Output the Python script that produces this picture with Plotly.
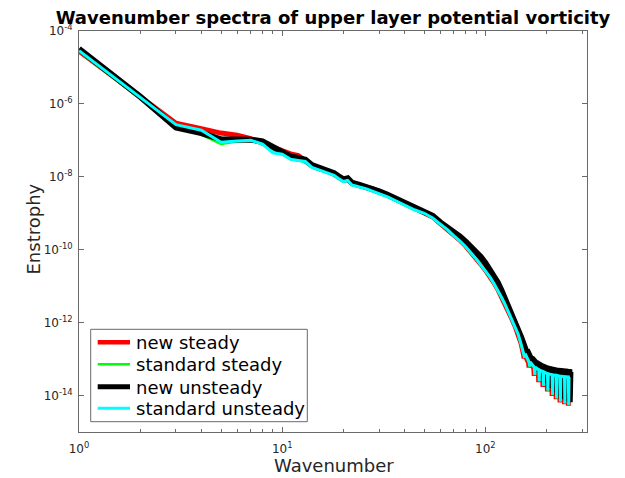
import plotly.graph_objects as go

# ---------------- data (log10 of enstrophy) ----------------
k_smooth = [1, 2, 3, 4, 5, 6, 7, 8, 9, 10, 11, 12, 13, 14, 15, 16, 17, 18, 19, 20,
            21, 22, 24, 26, 28, 30, 33, 36, 40, 45, 50, 55, 60, 65, 70, 75, 80, 85,
            90, 95, 100, 105, 110, 115, 120, 125, 130, 135, 140, 145, 150]

log_new_steady = [-4.55, -5.79, -6.53, -6.68, -6.80, -6.86, -6.95, -7.08, -7.20, -7.30,
                  -7.37, -7.42, -7.57, -7.70, -7.77, -7.80, -7.86, -7.93, -8.02, -8.09,
                  -8.08, -8.18, -8.24, -8.28, -8.33, -8.42, -8.50, -8.61, -8.73, -8.87,
                  -8.97, -9.10, -9.28, -9.43, -9.60, -9.74, -9.90, -10.06, -10.23, -10.40,
                  -10.56, -10.72, -10.90, -11.08, -11.28, -11.48, -11.70, -11.90, -12.10,
                  -12.30, -12.58]
log_standard_steady = [-4.56, -5.86, -6.58, -6.84, -7.10, -7.03, -7.00, -7.10, -7.33, -7.38,
                       -7.52, -7.55, -7.60, -7.74, -7.80, -7.84, -7.89, -7.96, -8.05, -8.13,
                       -8.10, -8.22, -8.28, -8.33, -8.40, -8.46, -8.55, -8.65, -8.77, -8.91,
                       -9.00, -9.13, -9.30, -9.45, -9.62, -9.76, -9.92, -10.08, -10.25, -10.42,
                       -10.58, -10.74, -10.92, -11.10, -11.30, -11.50, -11.72, -11.92, -12.12,
                       -12.32, -12.60]
log_new_unsteady = [-4.49, -5.80, -6.65, -6.80, -6.97, -6.98, -6.98, -7.03, -7.18, -7.30,
                    -7.44, -7.48, -7.53, -7.68, -7.74, -7.78, -7.83, -7.90, -7.99, -8.07,
                    -8.04, -8.16, -8.22, -8.27, -8.34, -8.40, -8.49, -8.59, -8.71, -8.85,
                    -8.94, -9.07, -9.25, -9.38, -9.52, -9.64, -9.78, -9.92, -10.05, -10.20,
                    -10.36, -10.53, -10.72, -10.90, -11.12, -11.35, -11.57, -11.77, -11.97,
                    -12.15, -12.40]
log_standard_unsteady = [-4.54, -5.82, -6.57, -6.72, -7.05, -7.02, -7.00, -7.10, -7.34, -7.38,
                         -7.52, -7.55, -7.58, -7.74, -7.80, -7.84, -7.89, -7.96, -8.05, -8.13,
                         -8.10, -8.22, -8.28, -8.33, -8.40, -8.46, -8.55, -8.65, -8.77, -8.91,
                         -9.00, -9.13, -9.30, -9.45, -9.62, -9.76, -9.92, -10.08, -10.25, -10.42,
                         -10.58, -10.74, -10.92, -11.10, -11.30, -11.50, -11.72, -11.92, -12.12,
                         -12.32, -12.60]

# high-wavenumber comb: tooth wavenumbers, upper envelope and tooth bottoms
k_teeth = [156, 165, 175, 184, 193, 203, 214, 224, 234, 246, 257]
teeth_shift = {"new steady": -1, "standard steady": 0, "new unsteady": 3, "standard unsteady": 0}
upper_new_steady = [-12.87, -13.10, -13.24, -13.32, -13.37, -13.42, -13.45, -13.47, -13.49, -13.50, -13.51]
lower_new_steady = [-12.98, -13.23, -13.46, -13.63, -13.76, -13.89, -14.01, -14.10, -14.19, -14.24, -14.28]
upper_standard_steady = [-12.86, -13.09, -13.23, -13.31, -13.36, -13.41, -13.44, -13.46, -13.48, -13.49, -13.50]
lower_standard_steady = [-12.96, -13.21, -13.44, -13.61, -13.74, -13.87, -13.99, -14.08, -14.17, -14.22, -14.26]
upper_new_unsteady = [-12.75, -12.97, -13.10, -13.18, -13.23, -13.27, -13.30, -13.32, -13.33, -13.34, -13.35]
lower_new_unsteady = [-12.88, -13.13, -13.36, -13.53, -13.66, -13.79, -13.91, -14.00, -14.09, -14.14, -14.18]
upper_standard_unsteady = [-12.85, -13.08, -13.22, -13.30, -13.35, -13.40, -13.43, -13.45, -13.47, -13.48, -13.49]
lower_standard_unsteady = [-12.95, -13.20, -13.43, -13.60, -13.73, -13.86, -13.98, -14.07, -14.16, -14.21, -14.25]

y_tick_exponents = [-4, -6, -8, -10, -12, -14]
x_tick_exponents = [0, 1, 2]
x_minor_ticks = [2, 3, 4, 5, 6, 7, 8, 9, 20, 30, 40, 50, 60, 70, 80, 90, 200, 300]

series = [
    ("new steady", log_new_steady, upper_new_steady, lower_new_steady, "#ff0000", 5, 4.5),
    ("standard steady", log_standard_steady, upper_standard_steady, lower_standard_steady, "#00ff00", 2.5, 2.5),
    ("new unsteady", log_new_unsteady, upper_new_unsteady, lower_new_unsteady, "#000000", 6, 5),
    ("standard unsteady", log_standard_unsteady, upper_standard_unsteady, lower_standard_unsteady, "#00ffff", 3, 3),
]

# pixel geometry of the plot area
L, R, T, B = 79, 38, 31, 46
W, H = 625, 478
PW, PH = W - L - R, H - T - B


def px(x):
    return (x - L) / PW


def py(y):
    return (H - B - y) / PH


fig = go.Figure()
for name, smooth, upper, lower, color, width, _ in series:
    xs = list(k_smooth)
    ys = list(smooth)
    s = teeth_shift[name]
    for kt, up, lo in zip(k_teeth, upper, lower):
        xs += [kt + s - 1, kt + s, kt + s + 1]
        ys += [up, lo, up]
    xs.append(k_teeth[-1] + s + 2)
    ys.append(upper[-1])
    fig.add_trace(go.Scatter(
        x=xs, y=[10 ** v for v in ys], mode="lines", name=name, showlegend=False,
        line=dict(color=color, width=width), hoverinfo="skip"))

axis_color = "#262626"
line_gray = "#6a6a6a"
font_family = "DejaVu Sans"

# custom legend (box, line samples, labels) to match the reference layout
shapes = [dict(type="rect", xref="paper", yref="paper",
               x0=px(90.7), x1=px(307.3), y0=py(421.7), y1=py(329.3),
               fillcolor="white", line=dict(color=line_gray, width=1), layer="above")]
annotations = []
rows = [342.3, 364.3, 386.7, 408.3]
for (name, _, _, _, color, _, lw), ry in zip(series, rows):
    shapes.append(dict(type="line", xref="paper", yref="paper",
                       x0=px(97.7), x1=px(130), y0=py(ry), y1=py(ry),
                       line=dict(color=color, width=lw), layer="above"))
    annotations.append(dict(text=name, xref="paper", yref="paper",
                            x=px(134), y=py(ry + 0.5), xanchor="left", yanchor="middle",
                            showarrow=False,
                            font=dict(size=18, color="black", family=font_family)))

annotations.append(dict(text="Wavenumber", xref="paper", yref="paper",
                        x=px(333.5), y=py(465.5), xanchor="center", yanchor="middle",
                        showarrow=False, font=dict(size=18, color=axis_color, family=font_family)))
annotations.append(dict(text="Enstrophy", xref="paper", yref="paper",
                        x=px(32.5), y=py(229), xanchor="center", yanchor="middle",
                        textangle=-90, showarrow=False,
                        font=dict(size=18, color=axis_color, family=font_family)))

fig.update_layout(
    width=W, height=H,
    margin=dict(l=L, r=R, t=T, b=B),
    paper_bgcolor="white", plot_bgcolor="white",
    font=dict(family=font_family, color=axis_color),
    title=dict(text="<b>Wavenumber spectra of upper layer potential vorticity</b>",
               x=333 / W, xanchor="center", y=1 - 18 / H, yanchor="middle",
               font=dict(size=18, color="black", family=font_family)),
    showlegend=False,
    shapes=shapes,
    annotations=annotations,
)

fig.update_xaxes(
    type="log", range=[0, 2.5],
    tickmode="array",
    tickvals=[10 ** e for e in x_tick_exponents],
    ticktext=["10<sup>%d</sup>" % e for e in x_tick_exponents],
    ticks="inside", ticklen=5, tickwidth=1, tickcolor=line_gray,
    minor=dict(tickmode="array", tickvals=x_minor_ticks,
               ticks="inside", ticklen=3, tickwidth=1, tickcolor=line_gray, showgrid=False),
    showline=True, linecolor=line_gray, linewidth=1, mirror="ticks",
    showgrid=False, zeroline=False,
    tickfont=dict(size=12, color=axis_color),
    ticklabelstandoff=6,
)
fig.update_yaxes(
    type="log", range=[-15, -4],
    tickmode="array",
    tickvals=[10.0 ** e for e in y_tick_exponents],
    ticktext=["10<sup>%d</sup>" % e for e in y_tick_exponents],
    ticks="inside", ticklen=5, tickwidth=1, tickcolor=line_gray,
    showline=True, linecolor=line_gray, linewidth=1, mirror="ticks",
    showgrid=False, zeroline=False,
    tickfont=dict(size=12, color=axis_color),
    ticklabelstandoff=3,
)

fig.write_html("out.html")
